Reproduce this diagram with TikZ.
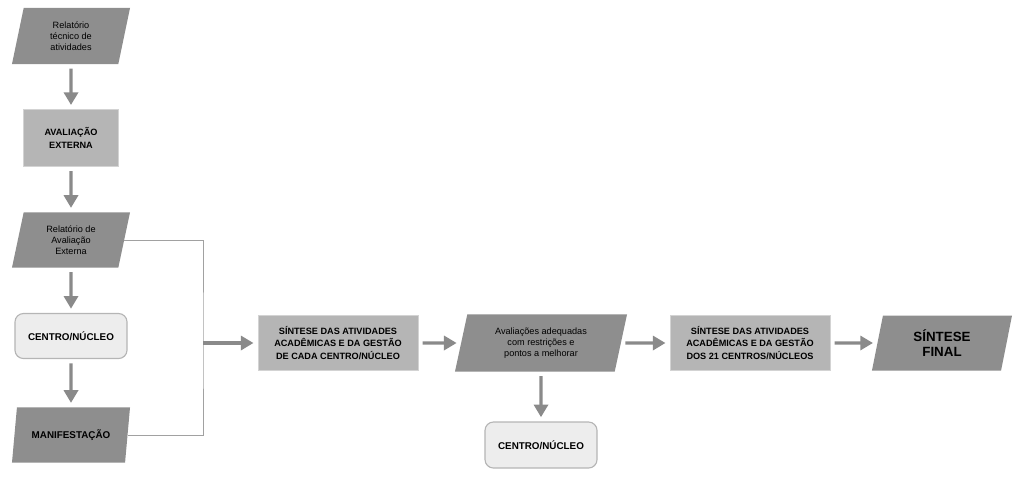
\documentclass[tikz,border=0pt]{standalone}
\usepackage{fontspec}
\setmainfont{Liberation Sans}
\usetikzlibrary{shapes.geometric}
\usetikzlibrary{arrows.meta}

\definecolor{darkbox}{HTML}{8E8E8E}
\definecolor{midbox}{HTML}{B5B5B5}
\definecolor{lightbox}{HTML}{EDEDED}
\definecolor{arrowgray}{HTML}{8A8A8A}

\tikzset{
  para/.style={trapezium, trapezium left angle=70, trapezium right angle=110,
    trapezium stretches body, fill=darkbox, inner sep=1pt, align=center,
    font=\fontsize{6.5}{8}\selectfont},
  boxrect/.style={rectangle, fill=midbox, draw=midbox!80!black!40, inner sep=1pt,
    align=center, font=\fontsize{6.5}{9}\selectfont\bfseries},
  roundbox/.style={rectangle, rounded corners=6pt, fill=lightbox, draw=midbox,
    line width=0.8pt, align=center, font=\fontsize{7}{9}\selectfont\bfseries},
  flow/.style={arrowgray, line width=2.2pt, -{Triangle[width=10pt,length=9pt]},
    shorten <=3pt, shorten >=3pt},
  link/.style={arrowgray!80, line width=0.6pt}
}

\begin{document}
\begin{tikzpicture}[x=0.025cm, y=-0.025cm]
  \useasboundingbox (0,0) rectangle (1024,482);

  % Left column
  \node[para, minimum width=2.95cm, minimum height=1.4cm] (relat) at (71,36)
    {Relatório\\técnico de\\atividades};
  \node[boxrect, minimum width=2.375cm, minimum height=1.425cm] (aval) at (71,138)
    {AVALIAÇÃO\\EXTERNA};
  \node[para, minimum width=2.95cm, minimum height=1.38cm] (relav) at (71,240)
    {Relatório de\\Avaliação\\Externa};
  \node[roundbox, minimum width=2.8cm, minimum height=1.125cm] (cn1) at (71,336)
    {CENTRO/NÚCLEO};
  \node[para, minimum width=2.95cm, minimum height=1.38cm, font=\fontsize{7}{9}\selectfont\bfseries] (manif) at (71,435)
    {MANIFESTAÇÃO};

  % Middle and right row
  \coordinate (join) at (203,343);
  \node[boxrect, minimum width=4cm, minimum height=1.375cm] (sint1) at (338,343)
    {SÍNTESE DAS ATIVIDADES\\ACADÊMICAS E DA GESTÃO\\DE CADA CENTRO/NÚCLEO};
  \node[para, minimum width=4.3cm, minimum height=1.43cm] (adeq) at (541,343)
    {Avaliações adequadas\\com restrições e\\pontos a melhorar};
  \node[roundbox, minimum width=2.8cm, minimum height=1.15cm] (cn2) at (541,445)
    {CENTRO/NÚCLEO};
  \node[boxrect, minimum width=4cm, minimum height=1.375cm] (sint2) at (750,343)
    {SÍNTESE DAS ATIVIDADES\\ACADÊMICAS E DA GESTÃO\\DOS 21 CENTROS/NÚCLEOS};
  \node[para, minimum width=3.5cm, minimum height=1.375cm, font=\fontsize{9.5}{11}\selectfont\bfseries] (final) at (942,343)
    {SÍNTESE\\FINAL};

  % The arrows
  \draw[flow] (relat) -- (aval);
  \draw[flow] (aval) -- (relav);
  \draw[flow] (relav) -- (cn1);
  \draw[flow] (cn1) -- (manif);
  \draw[link] (relav.east) -| (join) |- (manif.east);
  \draw[flow, shorten <=0pt] (join) -- (sint1);
  \draw[flow] (sint1) -- (adeq);
  \draw[flow] (adeq) -- (cn2);
  \draw[flow] (adeq) -- (sint2);
  \draw[flow] (sint2) -- (final);
\end{tikzpicture}
\end{document}
